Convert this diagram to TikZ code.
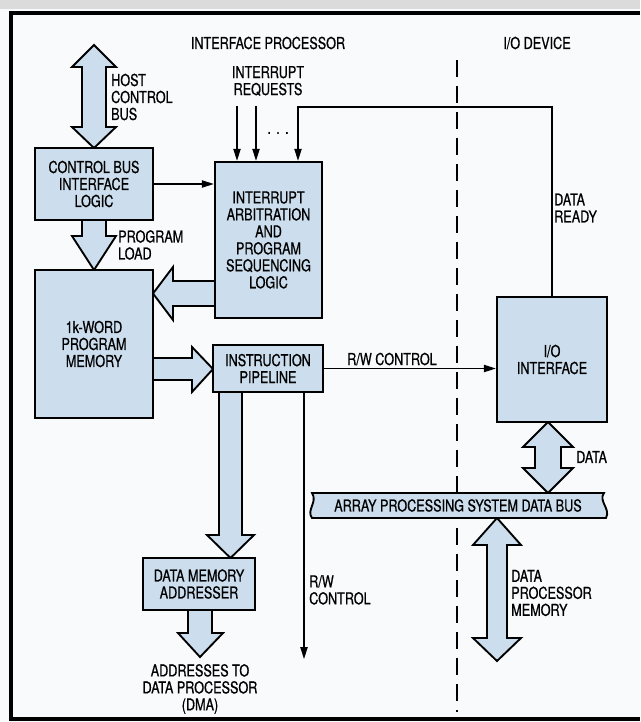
\documentclass[tikz,border=0pt]{standalone}
\usepackage{fontspec}
\setmainfont{TeX Gyre Heros}[FakeStretch=0.77,FakeBold=0.7]
\usetikzlibrary{arrows.meta}
\definecolor{boxblue}{RGB}{204,222,238}
\definecolor{paper}{RGB}{249,250,251}
\pgfdeclarelayer{back}
\pgfsetlayers{back,main}
\begin{document}
\begin{tikzpicture}[x=0.3mm,y=-0.3mm,
  txt/.style={font=\fontsize{14}{14.5}\selectfont, inner sep=0pt},
  lbl/.style={txt, align=left},
  wh/.style 2 args={minimum width=#1*0.3mm, minimum height=#2*0.3mm},
  box/.style={txt, draw=black, fill=boxblue, line width=2.1pt, align=center},
  conn/.style={line width=1.2pt, -{Triangle[length=3.6mm,width=2.2mm]}},
  wire/.style={line width=1.2pt},
  barrow/.style={draw=black, fill=boxblue, line width=1.6pt, line join=miter},
]
\useasboundingbox (0,0) rectangle (640,722);

% ---- boxes
\node[box, wh={118}{72}]  (cbil) at (94,184)    {CONTROL BUS\\INTERFACE\\LOGIC};
\node[box, wh={107}{156}] (iasl) at (268.5,240) {INTERRUPT\\ARBITRATION\\AND\\PROGRAM\\SEQUENCING\\LOGIC};
\node[box, wh={118}{148}] (pm)   at (94,344)    {1k-WORD\\PROGRAM\\MEMORY};
\node[box, wh={110}{47}]  (ip)   at (268,368.5) {INSTRUCTION\\PIPELINE};
\node[box, wh={112}{52}]  (dma)  at (199,584)   {DATA MEMORY\\ADDRESSER};
\node[box, wh={110}{125}] (io)   at (552,359.5) {I/O\\INTERFACE};

% ---- coordinates
\coordinate (irqA) at (237,106);
\coordinate (irqB) at (256,106);
\coordinate (fb)   at (298,107);
\coordinate (rwend) at (304,659);
\coordinate (dashtop) at (457,60);
\coordinate (dashbot) at (457,712);

\begin{pgfonlayer}{back}
  \fill[paper] (0,0) rectangle (640,722);
  \fill[black!14] (0,0) rectangle (640,9);
  % frame
  \draw[line width=3.4pt, line join=miter] (640,13) -- (11,13) -- (11,719) -- (640,719);
  % boundary
  \draw[line width=1.3pt, dash pattern=on 5.1mm off 2.7mm] (dashtop) -- (dashbot);

  % block arrows
  \path[barrow] (94,45) -- (116,67) -- (106,67) -- (106,127) -- (116,127) -- (94,148)
     -- (72,127) -- (82,127) -- (82,67) -- (72,67) -- cycle;
  \path[barrow] (82,220) -- (82,236) -- (72,236) -- (94,270) -- (116,236) -- (106,236) -- (106,220);
  \path[barrow] (215,281) -- (173,281) -- (173,267) -- (153,293.5) -- (173,320) -- (173,306) -- (215,306);
  \path[barrow] (153,358) -- (192,358) -- (192,347) -- (213,369) -- (192,392) -- (192,380) -- (153,380);
  \path[barrow] (219,392) -- (219,535) -- (207,535) -- (230.5,558) -- (254,535) -- (242,535) -- (242,392);
  \path[barrow] (188,610) -- (188,633) -- (178,633) -- (200,657) -- (223,633) -- (212,633) -- (212,610);
  \path[barrow] (548,422) -- (573,447) -- (561,447) -- (561,468) -- (573,468) -- (548,493)
     -- (523,468) -- (535,468) -- (535,447) -- (523,447) -- cycle;
  \path[barrow] (497,518) -- (521,545) -- (507,545) -- (507,638) -- (521,638) -- (497,661)
     -- (473,638) -- (487,638) -- (487,545) -- (473,545) -- cycle;

  % thin connectors
  \draw[conn] (cbil.east) -- (cbil.east -| iasl.west);
  \draw[conn] (irqA) -- (irqA |- iasl.north);
  \draw[conn] (irqB) -- (irqB |- iasl.north);
  \draw[conn] (io.north) |- (fb) -- (fb |- iasl.north);
  \draw[conn] (ip.east) -- (ip.east -| io.west);
  \draw[conn] (rwend |- ip.south) -- (rwend);
\end{pgfonlayer}

% ---- system data bus
\path[draw=black, fill=boxblue, line width=1.6pt]
  (312,493) -- (604,493) .. controls (598,501) and (611,509) .. (606,518)
  -- (312,518) .. controls (306,510) and (318,502) .. (312,493) -- cycle;
\node[txt] (bus) at (458,505.5) {ARRAY PROCESSING SYSTEM DATA BUS};

% ---- labels
\node[txt] (title1) at (268,43) {INTERFACE PROCESSOR};
\node[txt] (title2) at (537,43) {I/O DEVICE};
\node[lbl, anchor=west] (hcb) at (111,97) {HOST\\CONTROL\\BUS};
\node[txt, align=center] (irq) at (268,81) {INTERRUPT\\REQUESTS};
\node[txt] (dots) at (278,133) {.\hspace{1.6mm}.\hspace{1.6mm}.};
\node[lbl, anchor=west] (pl) at (118,245) {PROGRAM\\LOAD};
\node[lbl, anchor=west] (dr) at (554,208) {DATA\\READY};
\node[txt, anchor=base] (rw1) at (392,365) {R/W CONTROL};
\node[lbl, anchor=west] (data) at (576,457) {DATA};
\node[lbl, anchor=west] (rw2) at (309,590) {R/W\\CONTROL};
\node[lbl, anchor=west] (dpm) at (511,593) {DATA\\PROCESSOR\\MEMORY};
\node[txt, align=center] (addr) at (200,689) {ADDRESSES TO\\DATA PROCESSOR\\(DMA)};
\end{tikzpicture}
\end{document}
